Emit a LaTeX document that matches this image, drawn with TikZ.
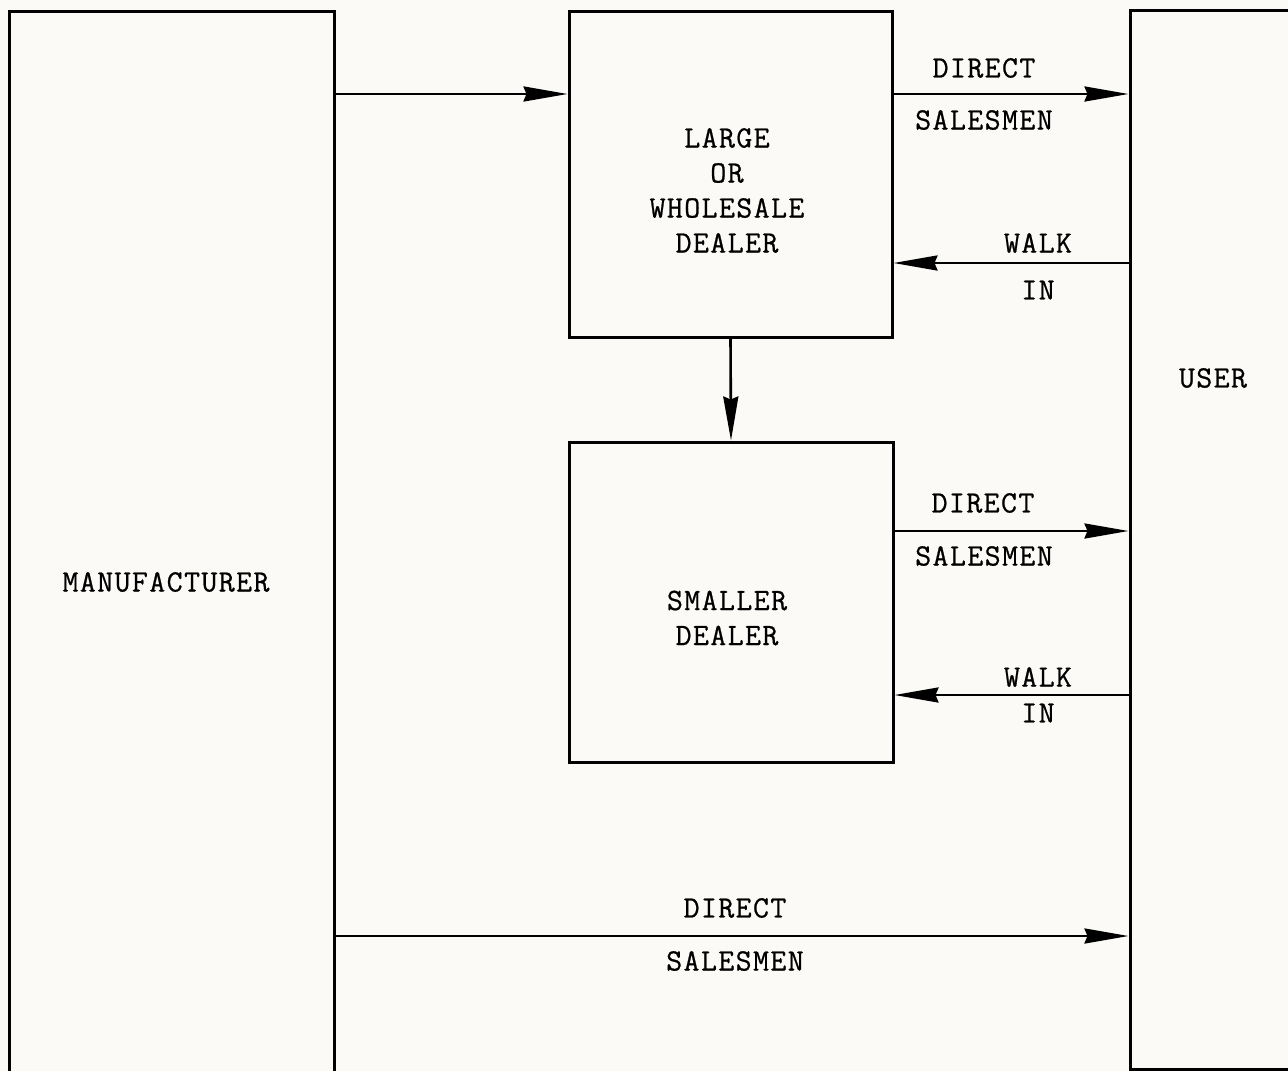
\documentclass[tikz,border=0pt]{standalone}
\usepackage{fontspec}
\usetikzlibrary{arrows.meta}
\definecolor{paper}{HTML}{FCFAF7}
\newfontfamily\twfam{Latin Modern Mono}[LetterSpace=4.5,FakeBold=0.7]
\newcommand{\twfont}{\twfam\fontsize{31}{35}\selectfont}
\begin{document}
\begin{tikzpicture}[x=1pt,y=-1pt,
  box/.style={draw=black,line width=3pt,inner sep=0pt,rectangle},
  txt/.style={inner sep=0pt,align=center,font=\twfont},
  arr/.style={line width=2.6pt,-{Stealth[length=44pt,width=15pt,inset=3pt]}}]
\useasboundingbox (0,0) rectangle (1288,1071);
\clip (0,0) rectangle (1288,1071);
\fill[paper] (0,0) rectangle (1288,1071);
% boxes
\node[box,minimum width=325pt,minimum height=1142pt] (manu) at (171.5,582) {};
\node[txt] (manulbl) at (166,582) {MANUFACTURER};
\node[box,minimum width=180pt,minimum height=1059pt] (user) at (1220,539.5) {};
\node[txt] (userlbl) at (1213,378) {USER};
\node[box,minimum width=323pt,minimum height=326pt] (large) at (730.5,174) {};
\node[txt] (largelbl) at (727,190.5) {LARGE\\OR\\WHOLESALE\\DEALER};
\node[box,minimum width=324pt,minimum height=320pt] (small) at (731,602) {};
\node[txt] (smalllbl) at (727,618) {SMALLER\\DEALER};
% rows
\coordinate (ya) at (0,94);
\coordinate (yb) at (0,263);
\coordinate (yc) at (0,531);
\coordinate (yd) at (0,695);
\coordinate (ye) at (0,936);
% connectors
\draw[arr] (manu.east |- ya) -- (large.west |- ya);
\draw[arr] (large.east |- ya) -- (user.west |- ya);
\draw[arr] (user.west |- yb) -- (large.east |- yb);
\draw[arr] (large.south) -- (small.north);
\draw[arr] (small.east |- yc) -- (user.west |- yc);
\draw[arr] (user.west |- yd) -- (small.east |- yd);
\draw[arr] (manu.east |- ye) -- (user.west |- ye);
% labels
\node[txt] (l1a) at (984,68) {DIRECT};
\node[txt] (l1b) at (984,120) {SALESMEN};
\node[txt] (l2a) at (1038,243) {WALK};
\node[txt] (l2b) at (1038,290) {IN};
\node[txt] (l3a) at (983,503) {DIRECT};
\node[txt] (l3b) at (984,556) {SALESMEN};
\node[txt] (l4a) at (1038,677) {WALK};
\node[txt] (l4b) at (1038,713) {IN};
\node[txt] (l5a) at (735,908) {DIRECT};
\node[txt] (l5b) at (735,961) {SALESMEN};
\end{tikzpicture}
\end{document}
